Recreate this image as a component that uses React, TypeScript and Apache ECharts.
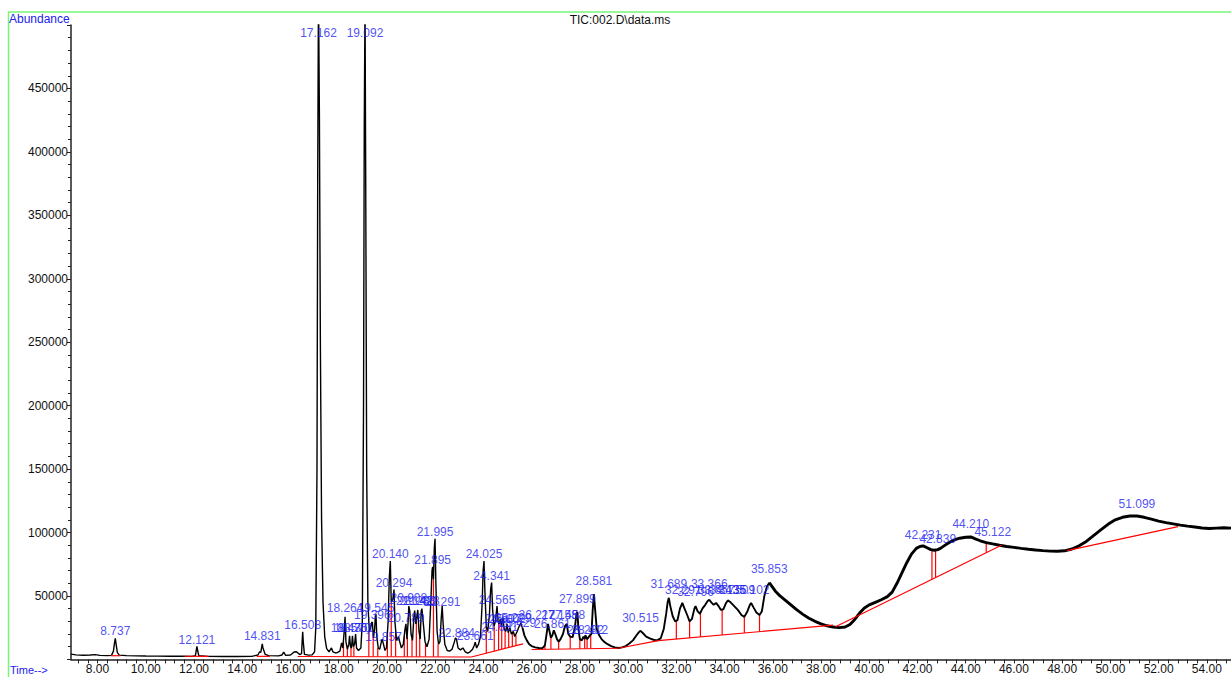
import React, { useEffect, useRef } from "react";
import * as echarts from "echarts";

// ---- TIC trace: [retention time (min), abundance] ----
const ticEarly: [number, number][] = [
  [6.9, 4200], [7.1, 3600], [7.4, 3300], [7.7, 3500], [7.9, 3800], [8.1, 3200], [8.4, 3000],
  [8.58, 3200], [8.66, 6500], [8.7, 12500], [8.737, 16500], [8.77, 12000], [8.82, 5500], [8.9, 3400],
  [9.2, 3000], [9.6, 2800], [10.0, 2700], [10.5, 2600], [11.0, 2500], [11.5, 2500], [11.9, 2400],
  [12.06, 3000], [12.1, 8000], [12.121, 10200], [12.15, 7000], [12.2, 3000], [12.6, 2400],
  [13.2, 2300], [13.8, 2300], [14.4, 2400], [14.65, 3500], [14.72, 6000], [14.77, 5500],
  [14.81, 10000], [14.831, 12300], [14.86, 9000], [14.95, 4000], [15.1, 3000], [15.5, 2800],
  [15.65, 3500], [15.72, 5800], [15.8, 3200], [16.0, 3500], [16.15, 5800], [16.25, 6000],
  [16.38, 3800], [16.46, 4500], [16.49, 16000], [16.508, 21800], [16.53, 14000], [16.58, 4000],
  [16.75, 3400], [16.9, 3600], [17.0, 6000], [17.05, 25000], [17.1, 150000], [17.13, 380000],
  [17.162, 530000], [17.2, 430000], [17.24, 250000], [17.29, 110000], [17.35, 45000],
  [17.42, 18000], [17.5, 8500], [17.6, 6000], [17.7, 9000], [17.76, 6000], [17.9, 5000],
];

const ticCluster: [number, number][] = [
  [17.9, 5000], [18.05, 6500], [18.12, 13000], [18.17, 9000], [18.22, 20000], [18.264, 33500],
  [18.3, 14000], [18.36, 8000], [18.42, 12000], [18.45, 18500], [18.49, 10000], [18.53, 9000],
  [18.57, 18500], [18.61, 10000], [18.66, 12000], [18.701, 20000], [18.74, 9000], [18.82, 7000],
  [18.92, 9000], [18.98, 30000], [19.03, 200000], [19.06, 420000], [19.092, 520000],
  [19.12, 380000], [19.16, 150000], [19.21, 45000], [19.27, 22000], [19.32, 25000],
  [19.37, 29000], [19.396, 29500], [19.44, 17000], [19.49, 24000], [19.52, 34000],
  [19.545, 35500], [19.58, 18000], [19.64, 9000], [19.7, 8000], [19.76, 13000], [19.8, 16000],
  [19.857, 12000], [19.92, 7000], [19.98, 9000], [20.05, 30000], [20.1, 65000], [20.14, 77500],
  [20.18, 45000], [20.25, 48000], [20.294, 55000], [20.33, 30000], [20.4, 15000], [20.48, 18000],
  [20.53, 14000], [20.6, 9000], [20.68, 12000], [20.75, 24000], [20.789, 28000], [20.83, 16000],
  [20.88, 30000], [20.908, 42000], [20.95, 38000], [21.0, 20000], [21.06, 15000], [21.12, 34000],
  [21.15, 38500], [21.2, 28000], [21.25, 35000], [21.28, 39000], [21.33, 22000], [21.38, 16000],
  [21.42, 38000], [21.45, 40000], [21.5, 30000], [21.58, 14000], [21.66, 10000], [21.75, 16000],
  [21.83, 50000], [21.87, 70000], [21.895, 73000], [21.93, 63000], [21.965, 88000],
  [21.995, 95000], [22.03, 60000], [22.08, 22000], [22.14, 12000], [22.2, 14000], [22.25, 32000],
  [22.291, 42000], [22.33, 28000], [22.4, 12000], [22.5, 7000], [22.6, 6500], [22.7, 8000],
  [22.8, 14000], [22.84, 17000], [22.884, 16000], [22.95, 9000], [23.05, 7500], [23.15, 9000],
  [23.25, 6000], [23.35, 5000], [23.45, 6000], [23.55, 8000], [23.62, 11000], [23.661, 13500],
  [23.72, 9000], [23.8, 12000], [23.88, 18000], [23.95, 45000], [23.99, 70000], [24.025, 77500],
  [24.06, 55000], [24.12, 26000], [24.18, 22000], [24.25, 35000], [24.3, 55000], [24.341, 60500],
  [24.38, 40000], [24.44, 26000], [24.5, 30000], [24.565, 42000], [24.61, 30000], [24.66, 28000],
  [24.7, 32000], [24.75, 26000], [24.807, 33000], [24.86, 24000], [24.93, 22000], [24.98, 28000],
  [25.03, 21000], [25.1, 25000], [25.16, 20000], [25.24, 22000], [25.3, 18000], [25.4, 22000],
  [25.48, 26000], [25.55, 28500], [25.62, 25000],
];

const ticMiddle: [number, number][] = [
  [25.62, 25000], [25.7, 19000], [25.8, 15000], [25.9, 12000], [26.0, 10500], [26.15, 9500],
  [26.3, 9000], [26.45, 8800], [26.55, 11000], [26.62, 20000], [26.68, 28000], [26.72, 24000],
  [26.8, 17000], [26.861, 19000], [26.92, 23000], [26.98, 20000], [27.05, 16000], [27.12, 14000],
  [27.2, 16000], [27.3, 20000], [27.38, 26000], [27.458, 28000], [27.52, 20000], [27.6, 18000],
  [27.7, 17500], [27.8, 26000], [27.86, 36000], [27.899, 37500], [27.94, 24000], [28.0, 16000],
  [28.08, 15000], [28.15, 18000], [28.2, 16000], [28.232, 19000], [28.3, 16000], [28.38, 18000],
  [28.42, 19000], [28.48, 20000], [28.53, 38000], [28.581, 51500], [28.63, 40000], [28.7, 24000],
  [28.8, 19000], [28.9, 16000], [29.0, 14000], [29.15, 12000], [29.3, 10500], [29.45, 9500],
  [29.6, 9000], [29.75, 9500], [29.9, 10500], [30.05, 12500], [30.2, 15000], [30.35, 19000],
  [30.45, 21500], [30.515, 22500], [30.6, 21000], [30.75, 18000], [30.9, 16500], [31.05, 15500],
  [31.2, 15000], [31.35, 16500], [31.48, 24000], [31.58, 36000], [31.64, 45000], [31.689, 48500],
  [31.75, 42000], [31.85, 34000], [31.95, 30000], [32.05, 31000], [32.15, 40000], [32.25, 44500],
  [32.32, 41000], [32.45, 35000], [32.55, 30000], [32.65, 32000], [32.75, 40000], [32.796, 42000],
  [32.88, 38000], [32.98, 36000], [33.08, 40000], [33.2, 43000], [33.3, 46000], [33.366, 47000],
  [33.45, 45000], [33.55, 43000], [33.65, 44500], [33.75, 42000], [33.85, 39000], [33.95, 39500],
  [34.05, 44000], [34.135, 46500], [34.25, 45000], [34.4, 42000], [34.55, 39000], [34.7, 35000],
  [34.82, 33500], [34.95, 38000], [35.05, 43000], [35.102, 44500], [35.2, 41000], [35.32, 37000],
  [35.45, 35000], [35.55, 38000], [35.65, 50000], [35.75, 57000], [35.853, 60500],
];

const ticLate: [number, number][] = [
  [35.853, 60500], [35.95, 58000], [36.1, 54000], [36.3, 50000], [36.5, 47000], [36.75, 43000],
  [37.0, 39000], [37.25, 35500], [37.5, 32500], [37.75, 30000], [38.0, 28000], [38.25, 26500],
  [38.5, 25500], [38.75, 25000], [39.0, 25500], [39.2, 27500], [39.4, 31500], [39.6, 36500],
  [39.8, 40500], [40.0, 43000], [40.25, 45000], [40.5, 47000], [40.75, 49500], [40.95, 53000],
  [41.15, 60000], [41.35, 68000], [41.55, 76000], [41.75, 83000], [41.95, 87500], [42.1, 89000],
  [42.231, 89500], [42.4, 88000], [42.55, 86500], [42.7, 86000], [42.839, 86500], [42.95, 87500],
  [43.1, 89500], [43.3, 92000], [43.5, 94000], [43.75, 95500], [44.0, 96300], [44.21, 96500],
  [44.4, 95000], [44.6, 93500], [44.85, 92000], [45.122, 91000], [45.4, 90000], [45.7, 89000],
  [46.0, 88300], [46.3, 87500], [46.6, 86800], [46.9, 86200], [47.2, 85700], [47.5, 85300],
  [47.8, 85200], [48.1, 85600], [48.4, 87000], [48.7, 89500], [49.0, 93000], [49.3, 97500],
  [49.6, 102000], [49.9, 106500], [50.2, 110000], [50.5, 112000], [50.8, 113000], [51.099, 113000],
  [51.4, 112000], [51.7, 110500], [52.0, 109000], [52.3, 107800], [52.6, 106800], [52.9, 105800],
  [53.2, 105000], [53.5, 104300], [53.8, 103600], [54.1, 103200], [54.4, 103500], [54.7, 103800],
  [55.0, 103500],
];

// ---- integration baselines (red): [t start, value start, t end, value end] ----
const baselines: [number, number, number, number][] = [
  [8.55, 2900, 8.95, 2900],
  [11.6, 2500, 12.6, 2400],
  [14.6, 2400, 15.15, 2400],
  [16.3, 2300, 23.5, 1900],
  [23.5, 1900, 25.65, 12300],
  [26.0, 7800, 29.6, 8800],
  [29.6, 8800, 31.25, 14800],
  [31.25, 14800, 38.5, 27000],
  [38.6, 25800, 45.5, 90200],
  [48.2, 85700, 52.8, 104700],
];

// ---- red drop lines: [t, baseline value, trace value] ----
const dropLines: [number, number, number][] = [
  [18.2, 2300, 14000], [18.36, 2300, 8000], [18.51, 2300, 9000], [18.63, 2300, 10000],
  [19.25, 2200, 23000], [19.43, 2200, 18000], [19.62, 2200, 9000], [20.02, 2200, 18000],
  [20.18, 2200, 45000], [20.36, 2200, 22000], [20.72, 2100, 18000], [20.85, 2100, 18000],
  [21.04, 2100, 16000], [21.22, 2100, 30000], [21.36, 2100, 19000], [21.6, 2100, 13000],
  [21.93, 2100, 63000], [22.12, 2000, 12000],
  [24.12, 4900, 26000], [24.45, 6500, 26000], [24.63, 7400, 29000], [24.76, 8000, 26000],
  [24.9, 8700, 23000], [25.05, 9400, 21000], [25.2, 10100, 21000], [25.35, 10800, 19000],
  [26.55, 8000, 11000], [26.8, 8100, 17000], [27.12, 8100, 14000], [27.6, 8300, 18000],
  [28.0, 8400, 16000], [28.2, 8400, 16000], [28.3, 8500, 16000], [28.45, 8500, 19500],
  [32.0, 16060, 30500], [32.55, 16990, 30000], [33.0, 17750, 36000], [33.9, 19260, 39000],
  [34.82, 20810, 33500], [35.45, 21870, 35000],
  [42.6, 63100, 86500], [42.75, 64500, 86200], [44.85, 84100, 92000],
];

// ---- peak labels: [text, abundance at the label's lower edge] ----
const peakLabels: [string, number][] = [
  ["8.737", 17500], ["12.121", 10600], ["14.831", 13700], ["16.508", 22400],
  ["17.162", 489000], ["19.092", 489000],
  ["18.264", 35800], ["18.435", 20000], ["18.570", 20000], ["18.701", 20000],
  ["19.545", 35800], ["19.396", 30300], ["19.857", 12900],
  ["20.140", 78400], ["20.294", 55500], ["20.908", 43700], ["20.789", 27900],
  ["21.142", 41300], ["21.283", 41300], ["21.423", 41300],
  ["21.895", 73700], ["21.995", 95700], ["22.291", 40500], ["22.884", 16100], ["23.661", 13700],
  ["24.025", 78400], ["24.341", 60900], ["24.565", 42100],
  ["24.681", 20500], ["24.807", 27000], ["25.002", 27000], ["25.229", 28000], ["25.429", 24000],
  ["26.217", 30000], ["26.861", 23000], ["27.158", 30000], ["27.458", 30000], ["27.899", 43000],
  ["28.232", 18500], ["28.412", 18500], ["28.581", 57000], ["30.515", 27900],
  ["31.689", 54600], ["32.291", 50000], ["32.796", 48000], ["33.366", 54600], ["33.657", 50000],
  ["34.135", 50000], ["34.509", 50000], ["35.102", 50000], ["35.853", 66300],
  ["42.231", 93500], ["42.839", 90500], ["44.210", 102000], ["45.122", 95700], ["51.099", 118000],
];

const xTickLabels = [8, 10, 12, 14, 16, 18, 20, 22, 24, 26, 28, 30, 32, 34, 36, 38, 40, 42, 44, 46, 48, 50, 52, 54];
const yTickLabels = [50000, 100000, 150000, 200000, 250000, 300000, 350000, 400000, 450000];

const FONT = "'Liberation Sans', Arial, sans-serif";
const BLUE = "#2222f0";

export default function App() {
  const ref = useRef<HTMLDivElement>(null);

  useEffect(() => {
    if (!ref.current) return;
    const chart = echarts.init(ref.current, null, { renderer: "svg" });

    const xMinorTicks: number[] = [];
    for (let i = -2; i <= 117; i++) xMinorTicks.push(+(8 + i * 0.4).toFixed(1));

    const series: any[] = [];
    const traceParts: [[number, number][], number][] = [
      [ticEarly, 1.4],
      [ticCluster, 1.4],
      [ticMiddle, 1.9],
      [ticLate, 2.9],
    ];
    traceParts.forEach(([d, w]) => {
      series.push({
        type: "line",
        data: d,
        showSymbol: false,
        symbol: "none",
        lineStyle: { color: "#000", width: w },
        z: 3,
        silent: true,
      });
    });
    baselines.forEach(([t0, v0, t1, v1]) => {
      series.push({
        type: "line",
        data: [[t0, v0], [t1, v1]],
        showSymbol: false,
        symbol: "none",
        lineStyle: { color: "#ff0000", width: 1.2 },
        z: 4,
        silent: true,
      });
    });
    dropLines.forEach(([t, b, top]) => {
      series.push({
        type: "line",
        data: [[t, b], [t, top]],
        showSymbol: false,
        symbol: "none",
        lineStyle: { color: "#ff0000", width: 1.2 },
        z: 2,
        silent: true,
      });
    });
    series.push({
      type: "scatter",
      symbolSize: 0,
      silent: true,
      z: 6,
      data: peakLabels.map(([txt, v]) => ({ name: txt, value: [parseFloat(txt), v] })),
      label: {
        show: true,
        position: "top",
        distance: 0,
        formatter: (p: any) => p.name,
        color: BLUE,
        fontSize: 12,
        fontFamily: FONT,
      },
    });

    chart.setOption({
      animation: false,
      backgroundColor: "#ffffff",
      grid: { left: 71, top: 25, width: 1160, height: 634.4, containLabel: false },
      xAxis: {
        type: "value",
        min: 6.9,
        max: 55,
        axisLine: { show: true, lineStyle: { color: "#222", width: 1.5 } },
        axisTick: { show: true, length: 4, customValues: xMinorTicks, lineStyle: { color: "#222" } },
        axisLabel: {
          customValues: xTickLabels,
          formatter: (v: number) => v.toFixed(2),
          color: "#111",
          fontSize: 12,
          fontFamily: FONT,
          margin: 4,
        },
        splitLine: { show: false },
      },
      yAxis: {
        type: "value",
        min: 0,
        max: 500000,
        interval: 50000,
        axisLine: { show: true, lineStyle: { color: "#222", width: 1.5 } },
        axisTick: { show: true, length: 4, lineStyle: { color: "#222" } },
        minorTick: { show: true, splitNumber: 5, length: 3, lineStyle: { color: "#222" } },
        axisLabel: {
          formatter: (v: number) => (yTickLabels.indexOf(v) >= 0 ? String(v) : ""),
          color: "#111",
          fontSize: 12,
          fontFamily: FONT,
          margin: 3,
        },
        splitLine: { show: false },
      },
      graphic: [
        { type: "line", shape: { x1: 8, y1: 12, x2: 1231, y2: 12 }, style: { stroke: "#77f777", lineWidth: 1.5 }, silent: true },
        { type: "line", shape: { x1: 8.5, y1: 12, x2: 8.5, y2: 677 }, style: { stroke: "#77f777", lineWidth: 1.5 }, silent: true },
        {
          type: "text",
          x: 620,
          y: 20,
          style: { text: "TIC:002.D\\data.ms", fill: "#111", font: `12px ${FONT}`, textAlign: "center", textVerticalAlign: "middle" },
          silent: true,
        },
        {
          type: "text",
          x: 9,
          y: 19,
          style: { text: "Abundance", fill: BLUE, font: `12px ${FONT}`, textAlign: "left", textVerticalAlign: "middle" },
          silent: true,
        },
        {
          type: "text",
          x: 10,
          y: 670,
          style: { text: "Time-->", fill: BLUE, font: `11px ${FONT}`, textAlign: "left", textVerticalAlign: "middle" },
          silent: true,
        },
      ],
      series,
    });

    return () => chart.dispose();
  }, []);

  return (
    <div
      ref={ref}
      style={{ position: "fixed", left: 0, top: 0, width: 1231, height: 677, background: "#fff" }}
    />
  );
}
